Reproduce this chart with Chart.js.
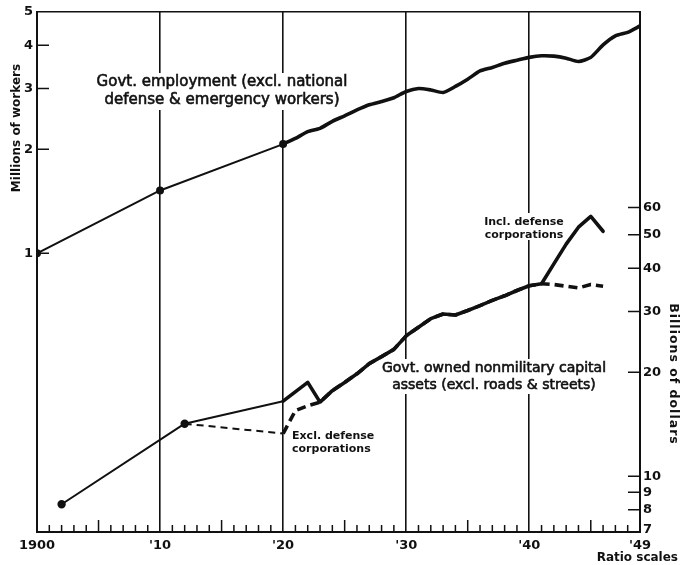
<!DOCTYPE html>
<html>
<head>
<meta charset="utf-8">
<script src="https://cdn.jsdelivr.net/npm/chart.js@4.4.0/dist/chart.umd.min.js"></script>
<style>
  html, body { margin: 0; padding: 0; background: #fff; }
  #wrap { width: 680px; height: 565px; position: relative; }
</style>
</head>
<body>
<div id="wrap"><canvas id="chart"></canvas></div>
<script>
// Govt. employment, millions of workers (left ratio scale)
const empYears = [1900, 1910, 1920, 1921, 1922, 1923, 1924, 1925, 1926, 1927, 1928, 1929,
    1930, 1931, 1932, 1933, 1934, 1935, 1936, 1937, 1938, 1939,
    1940, 1941, 1942, 1943, 1944, 1945, 1946, 1947, 1948, 1949];
const empWorkers = [1.0, 1.52, 2.07, 2.15, 2.25, 2.30, 2.41, 2.50, 2.60, 2.69, 2.75, 2.82,
    2.94, 3.00, 2.97, 2.92, 3.04, 3.19, 3.37, 3.45, 3.55, 3.62,
    3.69, 3.73, 3.72, 3.67, 3.59, 3.69, 4.01, 4.26, 4.36, 4.55];

// Govt. owned nonmilitary capital assets, billions of dollars (right ratio scale)
const inclYears = [1902, 1912, 1920, 1922, 1923, 1924, 1925, 1926, 1927, 1928, 1929,
    1930, 1931, 1932, 1933, 1934, 1935, 1936, 1937, 1938, 1939,
    1940, 1941, 1942, 1943, 1944, 1945, 1946];
const inclAssets = [8.3, 14.2, 16.5, 18.7, 16.4, 17.7, 18.7, 19.8, 21.2, 22.2, 23.3,
    25.5, 27.0, 28.6, 29.5, 29.3, 30.2, 31.2, 32.3, 33.3, 34.5,
    35.6, 36.1, 41.2, 47.0, 52.6, 56.5, 51.2];

const exclYears = [1912, 1920, 1921, 1922, 1923, 1924, 1925, 1926, 1927, 1928, 1929,
    1930, 1931, 1932, 1933, 1934, 1935, 1936, 1937, 1938, 1939,
    1940, 1941, 1942, 1943, 1944, 1945, 1946];
const exclAssets = [14.2, 13.3, 15.5, 16.0, 16.4, 17.7, 18.7, 19.8, 21.2, 22.2, 23.3,
    25.5, 27.0, 28.6, 29.5, 29.3, 30.2, 31.2, 32.3, 33.3, 34.5,
    35.6, 36.1, 35.9, 35.5, 35.1, 35.9, 35.5];

// Axis ticks
const xTickYears = [1900, 1910, 1920, 1930, 1940, 1949];
const xTickLabels = ['1900', "'10", "'20", "'30", "'40", "'49"];
const leftTicks = [1, 2, 3, 4, 5];
const rightTicks = [7, 8, 9, 10, 20, 30, 40, 50, 60];

const INK = '#111';
const FONT = 'DejaVu Sans';

function pts(years, vals) {
    return years.map((x, i) => ({ x: x, y: vals[i] }));
}

// split each series at 1920 (thin line before, heavy line after)
const empPts = pts(empYears, empWorkers);
const inclPts = pts(inclYears, inclAssets);
const exclPts = pts(exclYears, exclAssets);
const eCut = empYears.indexOf(1920);
const iCut = inclYears.indexOf(1920);
const xCut = exclYears.indexOf(1920);

function line(data, axis, width, extra) {
    return Object.assign({
        data: data,
        yAxisID: axis,
        borderColor: INK,
        backgroundColor: INK,
        borderWidth: width,
        pointRadius: 0,
        fill: false,
        tension: 0,
        borderJoinStyle: 'round',
        borderCapStyle: 'round'
    }, extra || {});
}

// text labels on the chart
const notes = [
    { lines: ['Govt. employment (excl. national', 'defense & emergency workers)'], x: 222, y: 82, gap: 18, font: '15px ' + FONT, align: 'center', heavy: 0.6 },
    { lines: ['Govt. owned nonmilitary capital', 'assets (excl. roads & streets)'], x: 494, y: 368, gap: 17, font: '14px ' + FONT, align: 'center', heavy: 0.6 },
    { lines: ['Incl. defense', 'corporations'], x: 524, y: 222, gap: 13, font: 'bold 11px ' + FONT, align: 'center', heavy: 0 },
    { lines: ['Excl. defense', 'corporations'], x: 292, y: 436, gap: 13, font: 'bold 11px ' + FONT, align: 'left', heavy: 0 }
];

const decor = {
    id: 'decor',
    beforeDatasetsDraw(chart) {
        const ctx = chart.ctx;
        const a = chart.chartArea;
        const xs = chart.scales.x, yl = chart.scales.yL, yr = chart.scales.yR;
        ctx.save();
        // white boxes behind the labels (gridlines are broken there)
        ctx.fillStyle = '#fff';
        notes.forEach(n => {
            ctx.font = n.font;
            n.lines.forEach((t, i) => {
                const w = ctx.measureText(t).width;
                const left = n.align === 'center' ? n.x - w / 2 : n.x;
                ctx.fillRect(left - 3, n.y + i * n.gap - 9, w + 6, n.gap + 1);
            });
        });
        ctx.strokeStyle = INK;
        ctx.lineWidth = 1.5;
        // top frame
        ctx.beginPath();
        ctx.moveTo(a.left, a.top);
        ctx.lineTo(a.right, a.top);
        ctx.stroke();
        // yearly ticks along the bottom, inside the frame
        ctx.beginPath();
        for (let y = 1901; y < 1949; y++) {
            if (y % 10 === 0) continue;
            const px = xs.getPixelForValue(y);
            const len = y % 5 === 0 ? 12 : 7;
            ctx.moveTo(px, a.bottom);
            ctx.lineTo(px, a.bottom - len);
        }
        leftTicks.forEach(v => {
            if (v === 5) return;
            const py = yl.getPixelForValue(v);
            ctx.moveTo(a.left, py);
            ctx.lineTo(a.left + 12, py);
        });
        rightTicks.forEach(v => {
            if (v === 7) return;
            const py = yr.getPixelForValue(v);
            ctx.moveTo(a.right, py);
            ctx.lineTo(a.right - 12, py);
        });
        ctx.stroke();
        ctx.restore();
    },
    afterDraw(chart) {
        const ctx = chart.ctx;
        ctx.save();
        ctx.fillStyle = INK;
        ctx.strokeStyle = INK;
        ctx.textBaseline = 'middle';
        notes.forEach(n => {
            ctx.font = n.font;
            ctx.textAlign = n.align;
            ctx.lineWidth = n.heavy;
            n.lines.forEach((t, i) => {
                ctx.fillText(t, n.x, n.y + i * n.gap);
                if (n.heavy) ctx.strokeText(t, n.x, n.y + i * n.gap);
            });
        });
        // axis titles
        ctx.font = 'bold 12px ' + FONT;
        ctx.textAlign = 'center';
        ctx.save();
        ctx.translate(17, 128);
        ctx.rotate(-Math.PI / 2);
        ctx.fillText('Millions of workers', 0, 0);
        ctx.restore();
        ctx.save();
        ctx.translate(673, 374);
        ctx.rotate(Math.PI / 2);
        ctx.font = 'bold 12.5px ' + FONT;
        ctx.letterSpacing = '1px';
        ctx.fillText('Billions of dollars', 0, 0);
        ctx.restore();
        ctx.font = 'bold 12px ' + FONT;
        ctx.textAlign = 'right';
        ctx.fillText('Ratio scales', 678, 558);
        ctx.restore();
    }
};

Chart.defaults.font.family = FONT;
Chart.defaults.color = INK;

new Chart(document.getElementById('chart').getContext('2d'), {
    type: 'line',
    data: {
        datasets: [
            line(empPts.slice(0, eCut + 1), 'yL', 2, { pointRadius: 3 }),
            line(empPts.slice(eCut), 'yL', 3.6, { tension: 0.2 }),
            line(inclPts.slice(0, iCut + 1), 'yR', 2, { pointRadius: c => c.dataIndex < 2 ? 3.2 : 0 }),
            line(inclPts.slice(iCut), 'yR', 3.6),
            line(exclPts.slice(0, xCut + 1), 'yR', 2, { borderDash: [7, 5], borderCapStyle: 'butt' }),
            line(exclPts.slice(xCut), 'yR', 3.6, { borderDash: [9, 5], borderCapStyle: 'butt' })
        ]
    },
    options: {
        responsive: true,
        maintainAspectRatio: false,
        animation: false,
        layout: { padding: { top: 11, left: 0, right: 0, bottom: 0 } },
        plugins: { legend: { display: false }, tooltip: { enabled: false } },
        scales: {
            x: {
                type: 'linear',
                min: 1900,
                max: 1949,
                afterBuildTicks: s => { s.ticks = xTickYears.map(v => ({ value: v })); },
                afterFit: s => { s.height = 33; },
                ticks: {
                    autoSkip: false,
                    maxRotation: 0,
                    padding: 6,
                    font: { size: 13, weight: 'bold' },
                    callback: (v) => xTickLabels[xTickYears.indexOf(v)]
                },
                grid: {
                    drawTicks: false,
                    lineWidth: 1.6,
                    color: c => (c.tick && (c.tick.value === 1900 || c.tick.value === 1949)) ? 'rgba(0,0,0,0)' : INK
                },
                border: { display: true, color: INK, width: 2 }
            },
            yL: {
                type: 'logarithmic',
                position: 'left',
                min: 0.156,
                max: 5,
                afterBuildTicks: s => { s.ticks = leftTicks.map(v => ({ value: v })); },
                afterFit: s => { s.width = 37; },
                ticks: {
                    padding: 4,
                    font: { size: 13, weight: 'bold' },
                    callback: v => String(v)
                },
                grid: { drawOnChartArea: false, drawTicks: false },
                border: { display: true, color: INK, width: 2 }
            },
            yR: {
                type: 'logarithmic',
                position: 'right',
                min: 6.9,
                max: 221,
                afterBuildTicks: s => { s.ticks = rightTicks.map(v => ({ value: v })); },
                afterFit: s => { s.width = 40; },
                ticks: {
                    padding: 3,
                    font: { size: 13, weight: 'bold' },
                    callback: v => String(v)
                },
                grid: { drawOnChartArea: false, drawTicks: false },
                border: { display: true, color: INK, width: 2 }
            }
        }
    },
    plugins: [decor]
});
</script>
</body>
</html>
